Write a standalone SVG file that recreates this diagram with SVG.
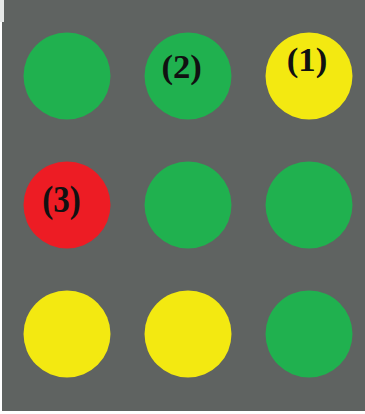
<svg xmlns="http://www.w3.org/2000/svg" width="365" height="414" viewBox="0 0 365 414">
<style>
.g{fill:#20b14f}.y{fill:#f3e911}.r{fill:#ed1c24}
.t{font-family:"Liberation Serif","Times New Roman",serif;font-weight:bold;font-size:34px;fill:#111;text-anchor:middle}
</style>
<rect width="365" height="414" fill="#ffffff"/>
<rect x="2" y="0" width="363" height="411" fill="#5f6361"/>
<rect x="0" y="0" width="4" height="22" fill="#e6e8e7"/>
<g id="n1"><circle class="g" cx="67" cy="76" r="43.5"/></g>
<g id="n2"><circle class="g" cx="188" cy="76" r="43.5"/><text class="t" x="181.7" y="78" textLength="40.5" lengthAdjust="spacingAndGlyphs">(2)</text></g>
<g id="n3"><circle class="y" cx="309" cy="76" r="43.5"/><text class="t" x="307" y="70.5" textLength="40.5" lengthAdjust="spacingAndGlyphs">(1)</text></g>
<g id="n4"><circle class="r" cx="67" cy="205" r="43.5"/><text class="t" x="61.5" y="211.5" style="font-size:37px" textLength="38.5" lengthAdjust="spacingAndGlyphs">(3)</text></g>
<g id="n5"><circle class="g" cx="188" cy="205" r="43.5"/></g>
<g id="n6"><circle class="g" cx="309" cy="205" r="43.5"/></g>
<g id="n7"><circle class="y" cx="67" cy="334" r="43.5"/></g>
<g id="n8"><circle class="y" cx="188" cy="334" r="43.5"/></g>
<g id="n9"><circle class="g" cx="309" cy="334" r="43.5"/></g>
<g id="connectors"/>
</svg>
